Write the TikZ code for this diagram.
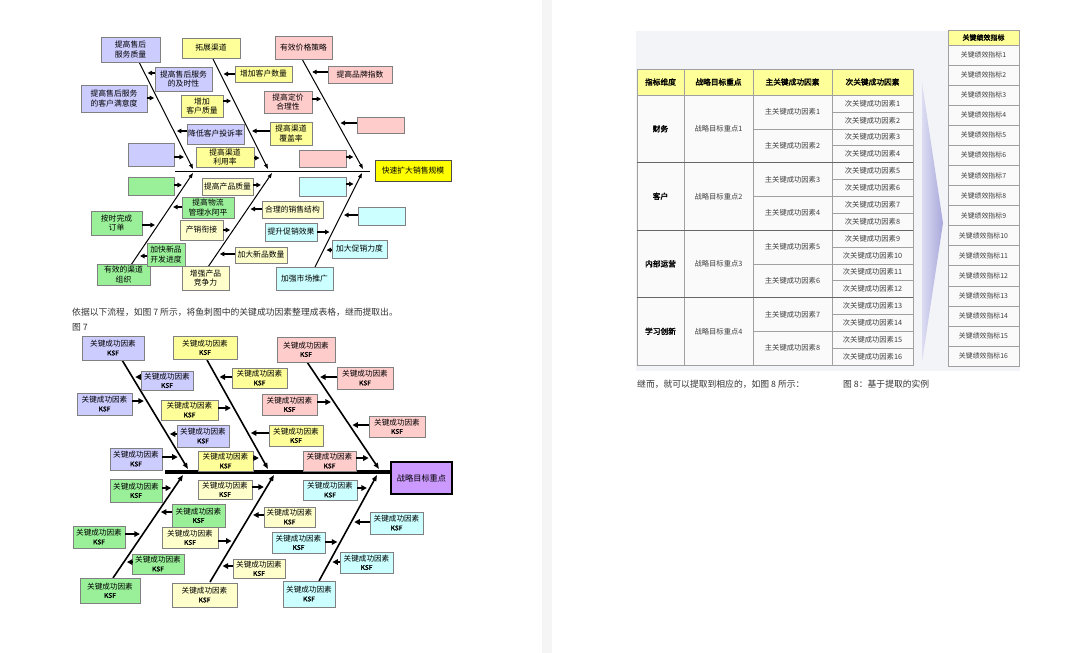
\documentclass[tikz,border=0pt]{standalone}
\usepackage{fontspec}
\setmainfont{Noto Sans CJK SC}[AutoFakeBold=2]
\usetikzlibrary{arrows.meta}
\definecolor{lav}{HTML}{CCCCFF}
\definecolor{yel}{HTML}{FFFF99}
\definecolor{pnk}{HTML}{FFCCCC}
\definecolor{grn}{HTML}{99F099}
\definecolor{crm}{HTML}{FFFFCC}
\definecolor{cyn}{HTML}{CCFFFF}
\definecolor{headY}{HTML}{FFFF00}
\definecolor{headP}{HTML}{CC99FF}
\definecolor{txt}{HTML}{333333}
\definecolor{cellbd}{HTML}{A0A0A0}
\definecolor{panel}{HTML}{F3F4F7}
\definecolor{chevL}{HTML}{DCDCF2}
\definecolor{chevR}{HTML}{A8A8DC}
\newcommand\fbx[7]{\node[#2, minimum width={(#5)-(#3)}, minimum height={(#6)-(#4)}] (#1) at ({((#3)+(#5))/2},{((#4)+(#6))/2}) {#7};}
\newcommand\arL[3]{\coordinate (#1t) at (intersection of #2s--#2e and 0,#3--1000,#3);
  \draw[sa] (#1.west |- #1t) -- ([xshift=3pt]#1t);}
\newcommand\arR[3]{\coordinate (#1t) at (intersection of #2s--#2e and 0,#3--1000,#3);
  \draw[sa] (#1.east |- #1t) -- ([xshift=-3pt]#1t);}
\newcommand\ksf{关键成功因素\\{\fontsize{6.6}{7}\selectfont\bfseries KSF}}
\begin{document}
\begin{tikzpicture}[x=1pt,y=-1pt,
  bxs/.style={draw=black!50, line width=0.6pt, inner sep=0pt, align=center, font=\fontsize{7.8}{9.6}\selectfont},
  lavb/.style={bxs, fill=lav}, yelb/.style={bxs, fill=yel}, pnkb/.style={bxs, fill=pnk},
  grnb/.style={bxs, fill=grn}, crmb/.style={bxs, fill=crm}, cynb/.style={bxs, fill=cyn},
  sa/.style={line width=1.3pt, -{Triangle[length=4.5pt,width=4.5pt]}},
  bone/.style={line width=1pt, -{Triangle[length=5pt,width=3.5pt]}},
  cell/.style={draw=cellbd, fill=white!98!black, line width=0.5pt, inner sep=0pt, align=center, text=black!75, font=\fontsize{7.3}{8}\selectfont},
  hcell/.style={cell, fill=yel, text=black, font=\fontsize{7.7}{8}\selectfont\bfseries},
  captxt/.style={anchor=west, inner sep=0pt, text=txt, font=\fontsize{8.8}{10}\selectfont}]
\useasboundingbox (0,0) rectangle (1080,653);
\fill[white] (0,0) rectangle (1080,653);
\fill[black!4] (542,0) rectangle (552,653);
% ---------------- top fishbone ----------------
\draw[line width=0.8pt] (175,171) -- (370,171);
\fbx{head}{bxs, fill=headY, draw=black!70}{375}{160}{451}{181}{快速扩大销售规模}
\coordinate (T1s) at (139,62);  \coordinate (T1e) at (193,169);
\coordinate (T2s) at (213,59);  \coordinate (T2e) at (268,169);
\coordinate (T3s) at (302,59);  \coordinate (T3e) at (363,169);
\coordinate (T4s) at (131,265); \coordinate (T4e) at (193,173);
\coordinate (T5s) at (208,267); \coordinate (T5e) at (272,173);
\coordinate (T6s) at (315,267); \coordinate (T6e) at (362,173);
\foreach \b in {T1,T2,T3,T4,T5,T6} \draw[bone] (\b s) -- (\b e);
\fbx{h1}{lavb}{101}{37}{160}{62}{提高售后\\服务质量}
\fbx{l1}{lavb}{155}{67}{212}{91}{提高售后服务\\的及时性}
\fbx{l2}{lavb}{81}{85}{147}{112}{提高售后服务\\的客户满意度}
\fbx{l3}{lavb}{187}{124}{244}{144}{降低客户投诉率}
\fbx{l4}{lavb}{128}{143}{174}{166}{}
\fbx{h2}{yelb}{182}{38}{240}{58}{拓展渠道}
\fbx{y1}{yelb}{235}{66}{292}{82}{增加客户数量}
\fbx{y2}{yelb}{181}{95}{223}{117}{增加\\客户质量}
\fbx{y3}{yelb}{270}{122}{312}{145}{提高渠道\\覆盖率}
\fbx{y4}{yelb}{196}{147}{254}{167}{提高渠道\\利用率}
\fbx{h3}{pnkb}{275}{36}{332}{59}{有效价格策略}
\fbx{p1}{pnkb}{328}{66}{392}{83}{提高品牌指数}
\fbx{p2}{pnkb}{264}{91}{312}{113}{提高定价\\合理性}
\fbx{p3}{pnkb}{357}{117}{404}{133}{}
\fbx{p4}{pnkb}{299}{150}{346}{167}{}
\fbx{h4}{grnb}{97}{264}{150}{285}{有效的渠道\\组织}
\fbx{g1}{grnb}{128}{177}{174}{195}{}
\fbx{g2}{grnb}{182}{197}{234}{218}{提高物流\\管理水阿平}
\fbx{g3}{grnb}{91}{211}{142}{235}{按时完成\\订单}
\fbx{g4}{grnb}{147}{243}{185}{266}{加快新品\\开发进度}
\fbx{h5}{crmb}{182}{266}{229}{290}{增强产品\\竞争力}
\fbx{c1}{crmb}{202}{178}{253}{195}{提高产品质量}
\fbx{c2}{crmb}{262}{201}{323}{218}{合理的销售结构}
\fbx{c3}{crmb}{180}{220}{223}{240}{产销衔接}
\fbx{c4}{crmb}{235}{247}{287}{263}{加大新品数量}
\fbx{h6}{cynb}{276}{267}{333}{290}{加强市场推广}
\fbx{q1}{cynb}{299}{177}{346}{196}{}
\fbx{q2}{cynb}{358}{207}{405}{225}{}
\fbx{q3}{cynb}{265}{223}{317}{241}{提升促销效果}
\fbx{q4}{cynb}{332}{240}{387}{258}{加大促销力度}
\arL{l1}{T1}{73}  \arR{l2}{T1}{98}  \arL{l3}{T1}{131} \arR{l4}{T1}{157}
\arL{y1}{T2}{74}  \arR{y2}{T2}{101} \arL{y3}{T2}{131} \arR{y4}{T2}{158}
\arL{p1}{T3}{72}  \arR{p2}{T3}{99}  \arL{p3}{T3}{123} \arR{p4}{T3}{157}
\arR{g1}{T4}{185} \arL{g2}{T4}{207} \arR{g3}{T4}{225} \arL{g4}{T4}{256}
\arR{c1}{T5}{185} \arL{c2}{T5}{209} \arR{c3}{T5}{230} \arL{c4}{T5}{254}
\arR{q1}{T6}{184} \arL{q2}{T6}{215} \arR{q3}{T6}{232} \arL{q4}{T6}{250}
% ---------------- caption left ----------------
\node[captxt] (capA) at (72,312) {依据以下流程，如图 7 所示，将鱼刺图中的关键成功因素整理成表格，继而提取出。};
\node[captxt] (capB) at (72,327) {图 7};
% ---------------- bottom fishbone ----------------
\begin{scope}[sa/.style={line width=2pt, -{Triangle[length=5.5pt,width=5.5pt]}},
  bone/.style={line width=1.6pt, -{Triangle[length=6pt,width=4.5pt]}},
  bxs/.style={draw=black!50, line width=0.6pt, inner sep=0pt, align=center, font=\fontsize{7.6}{8.5}\selectfont}]
\draw[line width=4pt] (165,472) -- (390,472);
\fbx{zhead}{bxs, fill=headP, draw=black, line width=2.5pt, font=\fontsize{8.2}{9}\selectfont}{391}{462}{452}{494}{战略目标重点}
\coordinate (U1s) at (122,360); \coordinate (U1e) at (188,469);
\coordinate (U2s) at (207,360); \coordinate (U2e) at (268,469);
\coordinate (U3s) at (307,362); \coordinate (U3e) at (379,469);
\coordinate (U4s) at (113,578); \coordinate (U4e) at (183,475);
\coordinate (U5s) at (210,582); \coordinate (U5e) at (274,475);
\coordinate (U6s) at (319,581); \coordinate (U6e) at (377,475);
\foreach \b in {U1,U2,U3,U4,U5,U6} \draw[bone] (\b s) -- (\b e);
\fbx{zh1}{lavb}{82}{336}{144}{360}{\ksf}
\fbx{za1}{lavb}{141}{371}{193}{390}{\ksf}
\fbx{za2}{lavb}{77}{393}{132}{415}{\ksf}
\fbx{za3}{lavb}{177}{425}{229}{447}{\ksf}
\fbx{za4}{lavb}{110}{448}{162}{470}{\ksf}
\fbx{zh2}{yelb}{173}{336}{237}{359}{\ksf}
\fbx{zb1}{yelb}{232}{368}{287}{388}{\ksf}
\fbx{zb2}{yelb}{161}{400}{218}{420}{\ksf}
\fbx{zb3}{yelb}{269}{425}{323}{446}{\ksf}
\fbx{zb4}{yelb}{198}{451}{253}{471}{\ksf}
\fbx{zh3}{pnkb}{277}{337}{335}{362}{\ksf}
\fbx{zc1}{pnkb}{337}{367}{393}{389}{\ksf}
\fbx{zc2}{pnkb}{262}{394}{317}{415}{\ksf}
\fbx{zc3}{pnkb}{369}{416}{425}{437}{\ksf}
\fbx{zc4}{pnkb}{303}{451}{356}{471}{\ksf}
\fbx{zh4}{grnb}{80}{578}{140}{603}{\ksf}
\fbx{zd1}{grnb}{110}{479}{162}{502}{\ksf}
\fbx{zd2}{grnb}{172}{504}{225}{527}{\ksf}
\fbx{zd3}{grnb}{73}{526}{125}{548}{\ksf}
\fbx{zd4}{grnb}{132}{554}{184}{574}{\ksf}
\fbx{zh5}{crmb}{172}{583}{237}{607}{\ksf}
\fbx{ze1}{crmb}{198}{480}{252}{499}{\ksf}
\fbx{ze2}{crmb}{264}{507}{315}{527}{\ksf}
\fbx{ze3}{crmb}{162}{527}{218}{548}{\ksf}
\fbx{ze4}{crmb}{233}{559}{285}{578}{\ksf}
\fbx{zh6}{cynb}{283}{581}{335}{607}{\ksf}
\fbx{zf1}{cynb}{303}{480}{357}{500}{\ksf}
\fbx{zf2}{cynb}{370}{512}{423}{534}{\ksf}
\fbx{zf3}{cynb}{272}{532}{325}{553}{\ksf}
\fbx{zf4}{cynb}{340}{552}{393}{573}{\ksf}
\arL{za1}{U1}{377} \arR{za2}{U1}{401} \arL{za3}{U1}{434} \arR{za4}{U1}{457}
\arL{zb1}{U2}{377} \arR{zb2}{U2}{408} \arL{zb3}{U2}{433} \arR{zb4}{U2}{458}
\arL{zc1}{U3}{377} \arR{zc2}{U3}{402} \arL{zc3}{U3}{425} \arR{zc4}{U3}{458}
\arR{zd1}{U4}{488} \arL{zd2}{U4}{512} \arR{zd3}{U4}{534} \arL{zd4}{U4}{562}
\arR{ze1}{U5}{487} \arL{ze2}{U5}{515} \arR{ze3}{U5}{541} \arL{ze4}{U5}{566}
\arR{zf1}{U6}{488} \arL{zf2}{U6}{522} \arR{zf3}{U6}{542} \arL{zf4}{U6}{562}
\end{scope}
% ---------------- right page: table ----------------
\fill[panel] (636,31) rectangle (1020,371);
\node[hcell, minimum width=47, minimum height=26] (hd1) at (660.5,82) {指标维度};
\node[hcell, minimum width=69, minimum height=26] (hd2) at (718.5,82) {战略目标重点};
\node[hcell, minimum width=79, minimum height=26] (hd3) at (792.5,82) {主关键成功因素};
\node[hcell, minimum width=81, minimum height=26] (hd4) at (872.5,82) {次关键成功因素};
\foreach \d [count=\i] in {财务,客户,内部运营,学习创新} {
  \node[cell, text=black, font=\fontsize{7.7}{8}\selectfont\bfseries, minimum width=47, minimum height=67.5] (dm\i) at (660.5,{95+(\i-0.5)*67.5}) {\d};
  \node[cell, minimum width=69, minimum height=67.5] (sg\i) at (718.5,{95+(\i-0.5)*67.5}) {战略目标重点\i};
}
\foreach \i in {1,...,8}
  \node[cell, minimum width=79, minimum height=33.75] (mf\i) at (792.5,{95+(\i-0.5)*33.75}) {主关键成功因素\i};
\foreach \i in {1,...,16}
  \node[cell, minimum width=81, minimum height=16.875] (sf\i) at (872.5,{95+(\i-0.5)*16.875}) {次关键成功因素\i};
\foreach \i in {1,2,3}
  \draw[black!60, line width=0.9pt] (637,{95+\i*67.5}) -- (913,{95+\i*67.5});
% chevron
\shade[left color=chevL, right color=chevR] (922,83) -- (943,223) -- (922,362) -- cycle;
% KPI column
\node[hcell, font=\fontsize{7}{8}\selectfont\bfseries, minimum width=71, minimum height=15] (kh) at (983.5,37.5) {关键绩效指标};
\foreach \i in {1,...,16}
  \node[cell, font=\fontsize{6.9}{8}\selectfont, minimum width=71, minimum height=20.0625] (kp\i) at (983.5,{45+(\i-0.5)*20.0625}) {关键绩效指标\i};
% captions right
\node[captxt] (capC) at (637,384) {继而，就可以提取到相应的，如图 8 所示：};
\node[captxt] (capD) at (843,384) {图 8：基于提取的实例};
\end{tikzpicture}
\end{document}
